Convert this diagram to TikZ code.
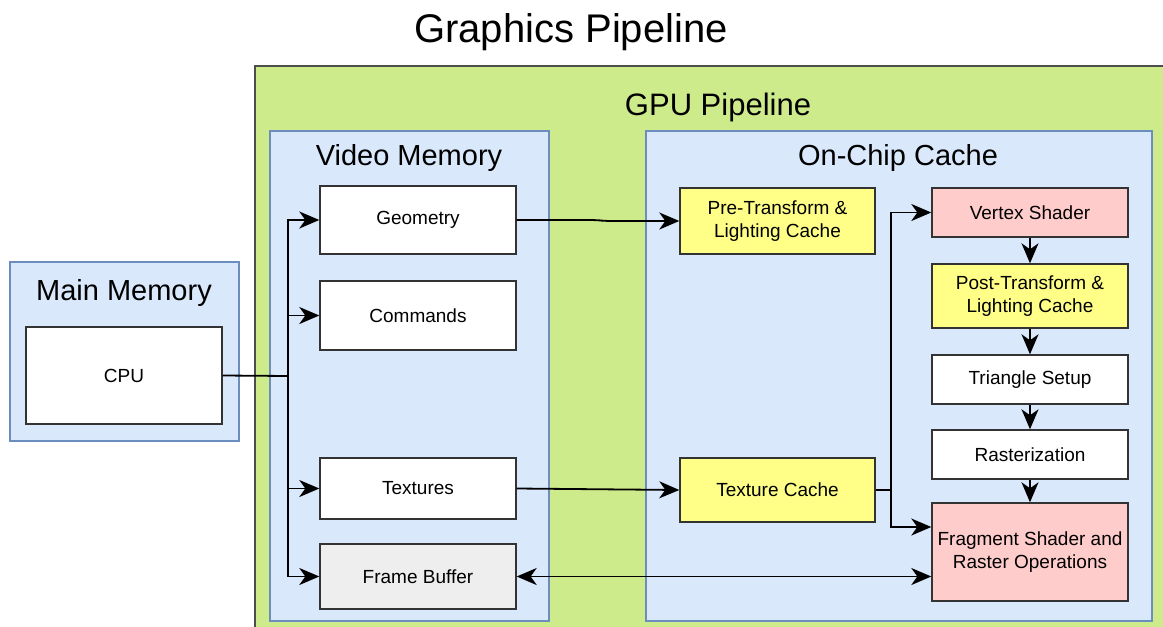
\documentclass[tikz,border=0pt]{standalone}
\usepackage{fontspec}
\setmainfont{Liberation Sans}
\usetikzlibrary{arrows.meta,calc}

\definecolor{memfill}{HTML}{DAE8FC}
\definecolor{memline}{HTML}{6C8EBF}
\definecolor{gpufill}{HTML}{CDEB8B}
\definecolor{gpuline}{HTML}{4D4D4D}
\definecolor{cachefill}{HTML}{FFFF88}
\definecolor{shadefill}{HTML}{FFCCCC}
\definecolor{fbfill}{HTML}{EEEEEE}
\definecolor{boxline}{HTML}{333333}

\tikzset{
  region/.style={draw=memline, fill=memfill, line width=1.2pt},
  unit/.style={draw=boxline, fill=white, line width=1.4pt, minimum width=196pt,
    align=center, font=\fontsize{19}{23.5}\selectfont, inner sep=0pt},
  head/.style={font=\fontsize{29}{34}\selectfont, anchor=center},
  link/.style={line width=1.8pt, -{Stealth[length=20pt,width=17pt,inset=6pt]}},
  twoway/.style={line width=1.8pt, {Stealth[length=20pt,width=17pt,inset=6pt]}-{Stealth[length=20pt,width=17pt,inset=6pt]}},
  plain/.style={line width=1.8pt}
}

\begin{document}
\begin{tikzpicture}[x=1pt,y=-1pt]
\useasboundingbox (0,0) rectangle (1163,627);

% title
\node[font=\fontsize{40}{46}\selectfont] (title) at (571,32) {Graphics Pipeline};

% main memory
\draw[region] (10,262) rectangle (239,441);
\node[head] (mmlabel) at (124,293) {Main Memory};
\node[unit, minimum width=196pt, minimum height=97pt] (cpu) at (124,375.5) {CPU};

% GPU pipeline area (runs past the right and bottom edges)
\fill[gpufill] (255,66) rectangle (1163,627);
\draw[gpuline, line width=1.6pt] (255,627) -- (255,66) -- (1163,66);
\node[font=\fontsize{31}{36}\selectfont] (gpulabel) at (718,107) {GPU Pipeline};

% video memory
\draw[region] (270,131) rectangle (549,621);
\node[head] (vmlabel) at (409,158) {Video Memory};
\node[unit, minimum height=68pt] (geo) at (418,220) {Geometry};
\node[unit, minimum height=69pt] (cmd) at (418,315.5) {Commands};
\node[unit, minimum height=61pt] (tex) at (418,488.5) {Textures};
\node[unit, fill=fbfill, minimum height=65pt] (fb) at (418,576.5) {Frame Buffer};

% on-chip cache
\draw[region] (646,131) rectangle (1152,621);
\node[head] (oclabel) at (898,158) {On-Chip Cache};
\node[unit, fill=cachefill, minimum width=195pt, minimum height=66pt] (pre) at (777.5,221) {Pre-Transform \&\\Lighting Cache};
\node[unit, fill=cachefill, minimum width=195pt, minimum height=64pt] (tc) at (777.5,490) {Texture Cache};
\node[unit, fill=shadefill, minimum height=49pt] (vs) at (1030,212.5) {Vertex Shader};
\node[unit, fill=cachefill, minimum height=64pt] (post) at (1030,296) {Post-Transform \&\\Lighting Cache};
\node[unit, minimum height=49pt] (tri) at (1030,379.5) {Triangle Setup};
\node[unit, minimum height=49pt] (rast) at (1030,454.5) {Rasterization};
\node[unit, fill=shadefill, minimum height=98pt] (fs) at (1030,552) {Fragment Shader and\\Raster Operations};

% CPU bus fanning out to video memory
\coordinate (bus) at (288,376);
\draw[plain] (cpu.east) -- (bus);
\draw[link] (bus) |- (geo.west);
\draw[link] (bus) |- (cmd.west);
\draw[link] (bus) |- (tex.west);
\draw[link] (bus) |- (fb.west);

% video memory to caches
\draw[link, rounded corners=6pt] (geo.east) -- ++(80,0) -- ++(8,1) -- (pre.west);
\draw[link] (tex.east) -- (tc.west);

% texture cache feeding the shaders
\coordinate (tap) at (891,490);
\draw[plain] (tc.east) -- (tap);
\draw[link] (tap) |- (vs.west);
\draw[link] (tap) |- ($(fs.west)+(0,-25)$);

% frame buffer exchange
\draw[twoway] (fb.east) -- (fb.east -| fs.west);

% vertex to fragment chain
\draw[link] (vs) -- (post);
\draw[link] (post) -- (tri);
\draw[link] (tri) -- (rast);
\draw[link] (rast) -- (fs);
\end{tikzpicture}
\end{document}
